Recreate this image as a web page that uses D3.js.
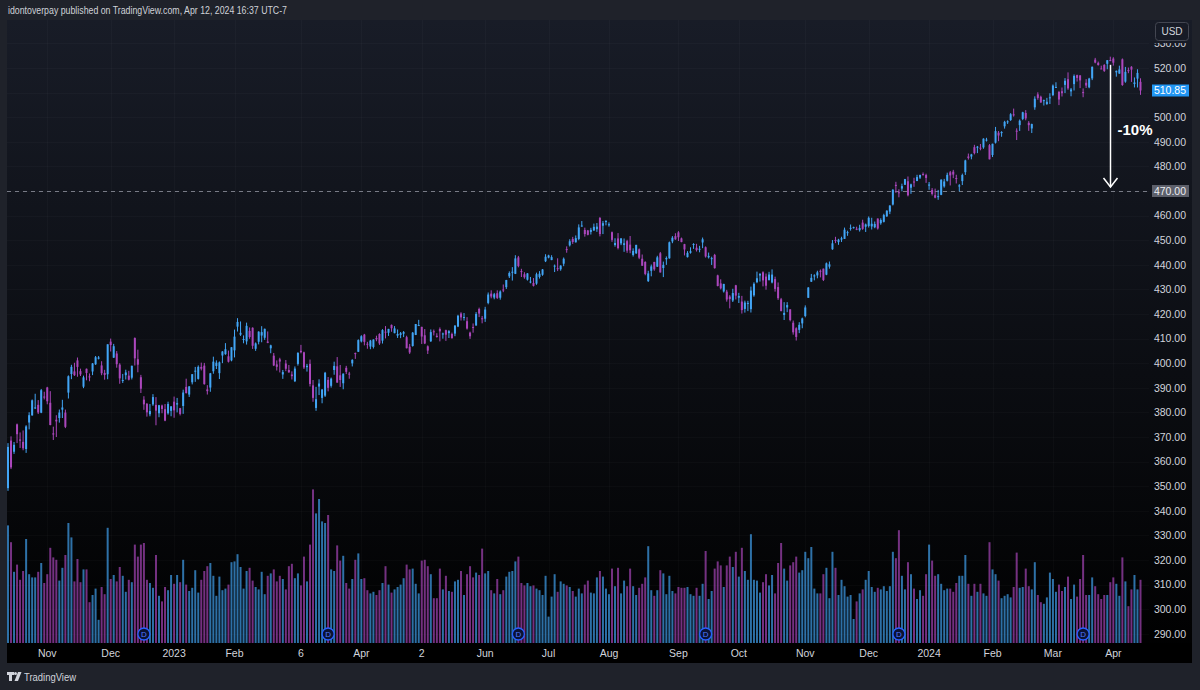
<!DOCTYPE html>
<html><head><meta charset="utf-8">
<script src="https://cdn.jsdelivr.net/npm/d3@7"></script>
<style>html,body{margin:0;padding:0;background:#1f222a;}svg{display:block}</style>
</head><body>
<svg id="c" width="1200" height="690"></svg>
<script>
// ---- DATA: SPY daily (trading days per month) ----
const monthDays = [
 ["2022-10",[13,14,17,18,19,20,21,24,25,26,27,28,31]],
 ["2022-11",[1,2,3,4,7,8,9,10,11,14,15,16,17,18,21,22,23,25,28,29,30]],
 ["2022-12",[1,2,5,6,7,8,9,12,13,14,15,16,19,20,21,22,23,27,28,29,30]],
 ["2023-01",[3,4,5,6,9,10,11,12,13,17,18,19,20,23,24,25,26,27,30,31]],
 ["2023-02",[1,2,3,6,7,8,9,10,13,14,15,16,17,21,22,23,24,27,28]],
 ["2023-03",[1,2,3,6,7,8,9,10,13,14,15,16,17,20,21,22,23,24,27,28,29,30,31]],
 ["2023-04",[3,4,5,6,10,11,12,13,14,17,18,19,20,21,24,25,26,27,28]],
 ["2023-05",[1,2,3,4,5,8,9,10,11,12,15,16,17,18,19,22,23,24,25,26,30,31]],
 ["2023-06",[1,2,5,6,7,8,9,12,13,14,15,16,20,21,22,23,26,27,28,29,30]],
 ["2023-07",[3,5,6,7,10,11,12,13,14,17,18,19,20,21,24,25,26,27,28,31]],
 ["2023-08",[1,2,3,4,7,8,9,10,11,14,15,16,17,18,21,22,23,24,25,28,29,30,31]],
 ["2023-09",[1,5,6,7,8,11,12,13,14,15,18,19,20,21,22,25,26,27,28,29]],
 ["2023-10",[2,3,4,5,6,9,10,11,12,13,16,17,18,19,20,23,24,25,26,27,30,31]],
 ["2023-11",[1,2,3,6,7,8,9,10,13,14,15,16,17,20,21,22,24,27,28,29,30]],
 ["2023-12",[1,4,5,6,7,8,11,12,13,14,15,18,19,20,21,22,26,27,28,29]],
 ["2024-01",[2,3,4,5,8,9,10,11,12,16,17,18,19,22,23,24,25,26,29,30,31]],
 ["2024-02",[1,2,5,6,7,8,9,12,13,14,15,16,20,21,22,23,26,27,28,29]],
 ["2024-03",[1,4,5,6,7,8,11,12,13,14,15,18,19,20,21,22,25,26,27,28]],
 ["2024-04",[1,2,3,4,5,8,9,10,11,12]]
];
const opens = [
 349.21,368.55,364.01,375.13,368.99,368.03,365.12,375.89,378.79,381.62,383.07,379.87,386.44,
 390.14,383.90,371.47,377.00,377.71,381.11,379.93,388.05,395.59,396.66,401.15,396.78,390.46,397.74,394.64,396.63,399.55,401.83,399.09,396.05,395.49,
 408.77,402.25,403.95,399.42,392.94,395.14,394.94,394.11,410.22,401.61,394.30,385.18,383.47,379.23,383.25,383.05,379.65,382.79,381.33,379.63,380.64,
 384.37,383.18,381.72,382.61,390.37,387.25,392.23,396.67,393.62,398.48,399.01,389.36,390.10,396.72,398.88,395.95,403.13,403.66,402.80,401.13,
 405.21,414.86,411.59,409.79,408.87,413.13,414.41,405.86,408.72,411.24,410.35,408.79,406.06,403.06,399.52,401.56,395.42,399.87,397.23,
 395.41,392.68,399.71,405.05,404.42,398.39,399.74,390.99,381.81,390.50,385.89,386.82,393.22,390.80,397.24,398.73,395.09,391.84,398.12,395.77,399.93,404.11,404.66,
 408.85,411.62,407.91,406.77,406.61,410.26,411.87,409.18,412.81,412.37,415.58,412.22,411.21,411.49,411.99,410.58,406.72,407.00,411.49,
 415.47,414.77,411.36,406.86,408.91,412.97,411.13,413.88,411.95,413.42,412.22,411.88,412.03,414.90,420.18,418.64,417.08,412.42,414.74,415.33,422.03,418.28,
 418.09,424.50,428.28,426.67,428.44,426.62,429.96,430.92,435.32,437.01,436.33,443.02,437.45,436.16,433.95,432.93,432.62,432.35,435.05,435.96,441.44,
 442.92,441.91,439.42,438.63,438.18,440.45,446.39,447.90,450.48,449.13,450.50,455.88,454.17,453.96,453.37,453.92,454.47,459.02,455.88,457.41,
 456.27,453.25,448.04,450.72,448.71,448.08,449.62,448.19,443.97,444.70,446.27,442.46,441.16,433.37,437.55,441.18,439.25,444.69,438.68,442.24,442.65,449.51,451.65,
 453.17,450.73,448.40,443.11,444.90,448.24,446.95,446.22,449.07,447.14,443.05,442.68,444.01,435.70,432.45,429.17,429.09,427.09,425.48,431.67,
 426.62,425.06,422.07,424.36,421.97,427.58,432.94,435.64,436.95,435.21,433.82,432.81,434.19,430.95,425.98,419.61,422.65,421.89,416.45,414.19,413.56,416.18,
 419.20,426.58,433.14,435.47,435.69,437.55,438.43,435.98,439.23,446.32,450.11,449.22,450.24,450.53,453.18,454.98,455.07,454.65,454.08,457.15,455.48,
 455.77,455.60,455.26,458.81,456.91,457.46,459.69,461.63,464.49,472.50,469.49,470.98,472.53,473.96,471.33,473.86,474.07,475.44,476.88,476.49,
 472.16,470.43,468.30,467.49,468.43,471.87,474.16,477.59,477.84,475.26,471.82,474.01,477.65,484.01,484.01,487.81,487.58,487.59,487.73,490.56,488.62,
 484.63,489.65,493.70,493.52,496.29,498.10,498.84,501.17,494.53,496.79,499.29,501.70,497.72,495.42,504.01,509.27,508.30,506.70,505.33,508.07,
 508.98,512.03,510.24,510.55,513.14,515.46,510.48,513.45,517.11,516.97,510.21,514.00,512.15,515.77,523.39,522.11,519.80,521.23,521.71,523.21,
 523.83,518.24,517.72,523.52,514.46,519.15,520.50,513.48,515.68,514.37
];
const highs = [
 367.51,370.26,367.98,375.45,371.85,372.67,374.80,380.06,385.25,387.58,385.00,389.52,388.40,
 390.39,388.63,374.20,378.87,381.17,385.12,381.14,395.04,399.35,400.18,402.31,397.78,394.95,397.81,395.82,400.07,402.93,402.91,400.81,397.30,407.68,
 410.00,407.86,404.93,399.99,395.64,397.36,396.90,399.00,410.49,405.50,395.25,386.58,383.82,383.40,387.41,386.21,383.06,383.15,383.39,384.35,382.58,
 386.43,385.88,381.84,389.25,393.70,390.65,395.60,398.49,399.10,400.23,400.12,391.08,396.04,402.65,401.15,400.70,404.92,408.16,405.13,406.53,
 413.67,418.31,416.97,411.29,416.49,414.53,414.57,408.44,412.97,415.05,414.06,412.91,407.51,404.16,401.13,402.20,397.25,401.29,399.28,
 396.69,398.69,404.45,407.45,404.67,399.71,401.48,393.16,390.39,393.45,389.49,396.47,394.40,394.17,400.61,402.49,399.29,395.84,398.92,396.49,401.60,404.33,409.70,
 411.37,411.92,408.70,409.48,409.69,411.18,412.17,413.84,415.09,413.96,415.72,415.08,413.70,412.68,413.07,411.16,407.84,412.69,415.94,
 417.62,414.82,413.87,407.24,413.72,413.68,412.18,414.54,412.43,413.63,413.43,412.43,415.52,419.67,420.72,420.39,418.72,412.82,416.16,420.77,422.58,419.22,
 422.92,428.74,429.62,428.58,429.62,429.60,431.99,433.88,437.33,439.06,443.90,443.61,438.37,436.99,436.62,435.06,434.61,436.81,437.44,438.28,444.30,
 444.08,443.89,440.10,442.64,439.84,442.97,447.48,450.38,451.36,451.93,456.43,457.78,455.10,454.17,455.04,456.74,456.99,459.44,457.78,458.16,
 457.25,453.52,450.79,452.89,450.87,450.70,450.17,451.70,446.70,448.11,446.64,444.18,441.43,437.57,440.11,441.18,443.67,445.22,441.30,443.40,449.45,451.67,452.83,
 453.67,451.06,448.51,445.55,447.11,448.77,448.53,447.71,451.08,447.48,444.97,443.29,444.44,435.97,434.10,432.27,429.82,427.67,430.25,431.85,
 428.60,427.37,425.43,425.37,431.13,432.88,437.22,436.58,437.34,436.45,437.14,438.14,435.18,432.82,426.54,424.82,424.82,421.92,417.33,414.60,416.68,418.53,
 423.50,430.92,436.29,436.15,437.59,438.09,438.47,440.93,441.33,450.06,451.38,450.56,451.42,455.13,453.85,456.38,455.50,455.49,456.27,458.32,456.76,
 459.65,459.12,457.59,458.84,458.90,460.75,462.17,464.20,470.76,473.73,470.70,472.98,474.92,475.90,472.98,475.38,476.58,476.66,477.55,477.03,
 473.67,471.19,470.96,470.44,474.75,474.93,477.45,478.12,478.60,476.61,472.79,477.06,482.72,485.22,485.11,488.77,488.31,489.12,491.42,491.62,489.08,
 489.23,496.05,494.38,494.32,498.53,498.71,501.65,503.50,495.47,499.07,502.20,502.87,498.41,497.37,508.49,510.13,508.75,507.16,507.86,509.74,
 513.29,514.20,510.70,512.07,515.89,518.22,511.88,517.38,517.29,517.13,511.70,515.48,516.00,520.62,524.11,522.61,520.95,521.58,523.21,524.61,
 524.38,518.98,520.95,523.87,520.44,520.18,520.75,516.16,519.48,515.82
];
const lows = [
 348.11,356.96,363.13,367.52,365.55,364.61,363.54,373.11,378.67,381.35,379.33,379.68,385.26,
 383.29,374.76,368.79,370.00,375.84,377.72,373.61,385.64,393.51,394.83,394.49,394.79,389.85,393.04,392.66,395.15,399.31,401.54,395.11,393.30,393.48,
 404.75,402.14,398.17,391.64,391.97,393.38,393.00,393.39,399.07,396.31,387.89,381.04,378.28,378.43,382.66,374.77,378.03,379.65,376.42,379.08,378.43,
 377.83,380.00,378.76,379.41,387.67,386.27,391.38,392.42,393.34,397.06,391.28,387.26,388.38,395.72,397.64,393.56,400.03,403.44,400.28,400.77,
 402.35,412.88,411.09,408.10,407.57,409.93,405.81,405.01,407.65,408.51,409.47,408.14,404.05,398.82,397.02,396.25,393.64,396.75,396.15,
 393.38,392.33,399.03,404.01,397.63,396.59,390.53,384.32,380.65,387.05,383.71,386.29,388.55,390.07,395.31,392.07,390.35,389.40,395.56,393.69,398.68,401.75,404.54,
 408.44,407.24,405.88,405.68,405.97,408.92,407.44,407.99,410.06,411.08,412.78,412.16,410.27,410.17,410.60,406.02,403.78,406.74,411.43,
 415.27,407.82,407.77,403.74,408.64,411.28,410.38,408.87,409.97,409.07,410.23,409.97,410.98,414.67,417.35,417.35,413.68,409.88,412.41,415.25,418.74,416.22,
 416.79,423.95,426.37,425.99,426.11,425.82,428.87,430.17,434.63,433.59,436.23,438.97,435.03,434.33,433.60,432.47,431.19,431.88,434.41,435.54,441.11,
 442.63,441.90,437.06,437.44,437.59,439.44,444.91,447.45,448.49,449.08,449.99,455.49,451.44,451.97,452.30,453.87,453.38,451.55,452.49,456.05,
 455.49,449.35,447.37,446.27,447.99,445.27,444.86,444.70,443.35,444.38,442.30,439.53,435.75,433.01,435.32,437.57,439.10,436.86,435.00,439.97,442.46,448.78,450.16,
 449.68,449.17,443.81,442.97,444.53,446.47,445.39,445.08,446.75,442.92,442.56,439.94,438.43,431.23,429.99,428.72,425.02,422.29,424.87,425.91,
 424.46,420.18,420.56,421.17,420.60,427.01,432.53,433.18,431.23,429.88,433.57,432.45,429.09,425.73,421.08,417.55,420.74,417.02,411.60,409.21,412.22,414.21,
 418.65,426.56,433.01,433.68,434.51,434.87,433.40,435.78,438.42,446.09,448.80,448.12,449.29,450.52,451.78,453.89,454.73,454.08,453.50,454.20,453.34,
 455.16,454.34,454.87,454.31,456.29,457.21,459.47,460.60,464.12,469.25,467.43,469.89,472.45,467.82,468.84,471.70,473.99,474.89,476.26,473.30,
 470.49,468.17,467.05,466.43,468.30,471.35,473.87,472.26,475.23,473.06,469.87,472.42,476.54,482.78,482.89,484.88,485.39,486.54,487.17,490.11,482.86,
 483.80,489.30,490.23,492.05,495.36,497.26,498.49,500.24,490.72,494.40,498.80,498.75,494.45,493.56,503.02,507.10,505.86,504.75,505.02,505.35,
 508.56,512.00,504.91,508.42,509.81,511.13,508.50,510.86,514.49,511.82,508.12,511.88,511.78,515.08,521.91,520.97,519.61,518.40,519.49,522.78,
 520.97,516.48,517.67,512.76,514.01,517.89,514.35,512.09,512.08,509.08
];
const closes = [
 365.97,357.63,366.82,371.13,368.50,365.41,374.29,378.87,384.92,382.02,379.98,389.02,386.21,
 384.52,374.87,371.01,376.35,379.95,382.00,374.13,394.69,398.51,395.12,398.49,395.45,394.24,396.03,394.59,399.90,402.42,402.33,395.91,395.23,407.68,
 407.38,406.91,399.59,393.83,393.16,396.24,393.28,398.95,401.97,399.40,389.63,383.27,380.02,380.54,386.23,380.72,382.91,381.40,376.66,383.44,382.43,
 380.82,383.76,379.38,388.08,387.86,390.58,395.52,396.96,398.50,397.77,391.49,388.64,395.88,400.63,400.20,400.35,404.75,405.68,400.59,406.48,
 410.80,416.78,412.35,409.83,415.19,410.65,407.09,408.04,412.83,412.64,413.98,408.28,407.26,399.09,398.54,400.66,396.38,397.73,396.26,
 394.74,397.81,404.19,404.47,398.27,398.92,391.56,385.91,385.36,391.73,389.28,396.11,389.99,393.74,398.91,392.11,393.17,395.75,396.49,395.60,401.35,403.70,409.39,
 410.95,408.67,407.60,409.19,409.61,409.72,408.05,413.47,412.46,413.94,414.21,414.14,411.88,412.20,412.63,406.08,404.36,412.41,415.93,
 415.51,410.84,408.02,405.13,412.63,412.87,410.65,412.94,412.08,411.59,413.01,410.19,415.24,419.28,418.62,418.79,414.09,410.95,414.65,420.02,420.18,417.85,
 421.82,427.92,427.10,428.03,426.55,429.13,429.90,433.80,436.66,437.18,442.60,439.46,437.18,434.94,436.51,433.21,431.44,436.17,436.39,438.11,443.28,
 443.79,443.13,439.66,438.55,439.66,442.46,446.02,449.56,449.28,450.84,455.20,455.96,452.49,452.18,454.20,455.44,455.51,452.49,456.92,457.79,
 456.48,450.13,448.84,446.81,450.71,448.75,445.75,445.91,445.65,448.11,442.89,439.64,436.29,436.50,439.34,438.15,443.03,436.89,439.97,442.76,449.16,451.01,450.35,
 451.19,449.24,446.22,444.85,445.52,448.45,445.99,446.51,450.36,443.37,443.63,442.71,438.64,431.39,430.42,432.23,425.88,426.05,428.52,427.48,
 427.31,421.59,424.66,424.50,429.54,432.29,434.54,436.32,433.66,431.50,436.04,436.02,430.21,426.43,421.19,420.46,423.63,417.55,412.55,410.68,415.59,418.20,
 422.66,430.76,434.69,435.69,436.93,437.25,433.84,440.61,440.19,448.73,449.68,450.23,450.79,454.26,453.27,455.02,455.30,454.48,454.93,454.61,456.40,
 459.10,456.69,456.60,454.76,458.23,460.20,461.99,464.10,470.50,472.01,469.33,471.97,474.84,468.26,472.70,473.65,475.65,476.51,476.69,475.31,
 472.65,468.79,467.28,467.92,474.60,473.88,476.56,476.35,476.68,474.93,472.29,476.49,482.43,483.45,484.86,485.39,488.03,487.41,491.27,490.89,482.88,
 489.20,494.35,492.55,493.98,498.10,498.32,501.20,500.98,494.08,498.57,502.01,499.51,496.76,497.21,507.50,507.85,505.99,506.93,506.26,508.08,
 512.85,512.30,507.18,509.75,514.81,511.72,511.28,516.78,515.97,514.95,509.83,512.86,515.71,520.48,522.20,521.21,519.77,518.81,523.17,523.07,
 522.16,518.84,519.41,513.07,518.43,518.72,519.32,514.12,518.00,510.85
];
// volume, millions of shares
const volumes = [
 147,126,89,98,79,90,130,86,82,82,89,100,75,
 86,119,107,104,78,94,110,150,132,77,105,76,92,92,51,60,68,29,70,61,144,
 80,85,77,95,84,64,79,76,123,108,123,125,79,75,69,110,59,52,70,66,85,
 74,85,76,104,73,65,69,91,63,79,90,96,100,84,59,83,66,68,73,101,
 102,111,95,68,90,94,78,70,67,89,61,84,87,92,77,84,80,67,96,
 99,81,87,72,108,77,123,192,162,180,152,150,160,92,90,122,103,109,75,68,80,104,112,
 80,81,66,62,64,60,66,75,96,73,63,67,70,73,81,98,92,93,74,
 62,103,104,96,86,56,56,93,67,84,65,64,77,79,90,60,86,96,82,88,85,118,
 87,90,66,62,80,61,66,83,89,90,102,108,75,72,75,71,72,68,66,60,84,
 33,58,86,64,77,74,72,70,65,58,68,62,73,78,63,62,82,90,83,68,
 61,93,71,94,62,78,71,93,71,60,69,74,82,121,66,59,66,91,87,61,84,65,62,
 70,69,69,70,61,59,69,59,74,115,55,65,93,102,97,70,97,108,95,114,
 83,119,90,79,136,79,78,63,76,86,72,85,62,100,125,93,78,97,101,108,88,91,
 114,106,120,68,62,62,86,94,56,114,94,60,79,71,58,60,30,52,62,67,79,
 90,70,64,69,67,71,65,71,114,106,141,84,67,101,86,68,55,66,59,86,
 123,103,84,86,74,66,68,68,64,75,84,84,110,74,59,74,64,74,62,59,126,
 92,86,78,56,59,61,57,70,113,69,70,93,71,67,101,60,51,49,57,88,
 80,64,73,65,70,83,55,73,58,80,110,60,60,82,71,61,55,60,60,76,
 82,74,59,107,77,46,67,85,67,79
];
const dividendDates = ["2022-12-16","2023-03-17","2023-06-16","2023-09-15","2023-12-15","2024-03-15"];
const xTickDates  = ["2022-11-01","2022-12-01","2023-01-03","2023-02-01","2023-03-06","2023-04-03","2023-05-02","2023-06-01","2023-07-03","2023-08-01","2023-09-01","2023-10-02","2023-11-01","2023-12-01","2024-01-02","2024-02-01","2024-03-01","2024-04-01"];
const xTickLabels = ["Nov","Dec","2023","Feb","6","Apr","2","Jun","Jul","Aug","Sep","Oct","Nov","Dec","2024","Feb","Mar","Apr"];
const priceTicks = [290,300,310,320,330,340,350,360,370,380,390,400,410,420,430,440,450,460,470,480,490,500,510,520,530];
const lastPrice = 510.85;
const levelPrice = 470.00;
const arrowDate = "2024-03-28", arrowFrom = 521.3, arrowTo = 471.6, arrowLabel = "-10%";
const headerText = "idontoverpay published on TradingView.com, Apr 12, 2024 16:37 UTC-7";

// ---- BUILD ----
const dates = [];
monthDays.forEach(([m, days]) => days.forEach(d => dates.push(m + "-" + String(d).padStart(2, "0"))));
const bars = dates.map((d, i) => ({d, o: opens[i], h: highs[i], l: lows[i], c: closes[i], v: volumes[i]}));

const FONT = "'Liberation Sans',Roboto,Arial,sans-serif";
const UP = "#42a5f5", DN = "#ab47bc";
const svg = d3.select("#c");
const panel = {x0: 7, y0: 20, x1: 1192, y1: 663};
const plotR = 1149, volBase = 643;

const x = d3.scalePoint().domain(dates).range([8, 1140.5]);
const y = d3.scaleLinear().domain([290, 530]).range([633.8, 43.4]);
const yv = d3.scaleLinear().domain([0, 200]).range([volBase, volBase - 160]);

const defs = svg.append("defs");
const g = defs.append("linearGradient").attr("id", "bg").attr("x1", 0).attr("y1", 0).attr("x2", 0).attr("y2", 1);
g.append("stop").attr("offset", "0%").attr("stop-color", "#181c27");
g.append("stop").attr("offset", "55%").attr("stop-color", "#0b0d12");
g.append("stop").attr("offset", "100%").attr("stop-color", "#000000");
defs.append("clipPath").attr("id", "plot").append("rect")
  .attr("x", panel.x0).attr("y", panel.y0).attr("width", plotR - panel.x0).attr("height", volBase - panel.y0);
defs.append("clipPath").attr("id", "axisclip").append("rect")
  .attr("x", 1150).attr("y", 43).attr("width", 42).attr("height", 600);

svg.append("rect").attr("width", 1200).attr("height", 690).attr("fill", "#1f222a");
svg.append("rect").attr("x", panel.x0).attr("y", panel.y0).attr("width", panel.x1 - panel.x0)
  .attr("height", panel.y1 - panel.y0).attr("fill", "url(#bg)");
svg.append("rect").attr("x", panel.x0).attr("y", volBase).attr("width", panel.x1 - panel.x0)
  .attr("height", panel.y1 - volBase).attr("fill", "#000");

// header
svg.append("text").attr("x", 8).attr("y", 14).attr("fill", "#cfd2d8")
  .attr("font-family", FONT).attr("font-size", 10.5)
  .attr("textLength", 279).attr("lengthAdjust", "spacingAndGlyphs").text(headerText);

// grid
const grid = svg.append("g").attr("clip-path", "url(#plot)");
grid.selectAll("line.h").data(priceTicks).join("line")
  .attr("x1", panel.x0).attr("x2", plotR).attr("y1", d => Math.round(y(d)) + 0.5).attr("y2", d => Math.round(y(d)) + 0.5)
  .attr("stroke", "#ffffff").attr("stroke-opacity", 0.025);
grid.selectAll("line.v").data(xTickDates).join("line")
  .attr("x1", d => Math.round(x(d)) + 0.5).attr("x2", d => Math.round(x(d)) + 0.5).attr("y1", panel.y0).attr("y2", volBase)
  .attr("stroke", "#ffffff").attr("stroke-opacity", 0.025);

const plot = svg.append("g").attr("clip-path", "url(#plot)");

// volume
plot.append("g").selectAll("rect").data(bars).join("rect")
  .attr("x", d => x(d.d) - 1).attr("width", 2)
  .attr("y", d => yv(d.v)).attr("height", d => volBase - yv(d.v))
  .attr("fill", d => d.c >= d.o ? UP : DN).attr("fill-opacity", 0.68);

// dashed level line
plot.append("line").attr("x1", panel.x0).attr("x2", plotR)
  .attr("y1", Math.round(y(levelPrice)) + 0.5).attr("y2", Math.round(y(levelPrice)) + 0.5)
  .attr("stroke", "#787b86").attr("stroke-width", 1).attr("stroke-dasharray", "4,4");

// candles
const cg = plot.append("g");
cg.selectAll("line").data(bars).join("line")
  .attr("x1", d => x(d.d)).attr("x2", d => x(d.d))
  .attr("y1", d => y(Math.max(d.h, d.o, d.c))).attr("y2", d => y(Math.min(d.l, d.o, d.c)))
  .attr("stroke", d => d.c >= d.o ? UP : DN).attr("stroke-width", 1);
cg.selectAll("rect").data(bars).join("rect")
  .attr("x", d => x(d.d) - 1).attr("width", 2)
  .attr("y", d => y(Math.max(d.o, d.c)))
  .attr("height", d => Math.max(1, Math.abs(y(d.o) - y(d.c))))
  .attr("fill", d => d.c >= d.o ? UP : DN);

// dividend markers
const dg = svg.append("g").selectAll("g").data(dividendDates).join("g")
  .attr("transform", d => `translate(${x(d)},634)`);
dg.append("circle").attr("r", 6).attr("fill", "#0b1233").attr("stroke", "#2962ff").attr("stroke-width", 1.3);
dg.append("text").attr("text-anchor", "middle").attr("y", 3).attr("fill", "#4f78ff")
  .attr("font-family", FONT).attr("font-size", 8).text("D");

// x axis labels
svg.append("g").selectAll("text").data(xTickDates).join("text")
  .attr("x", d => x(d)).attr("y", 657).attr("text-anchor", "middle")
  .attr("fill", "#d1d4dc").attr("font-family", FONT).attr("font-size", 10.5)
  .text((d, i) => xTickLabels[i]);

// price axis labels
svg.append("g").attr("clip-path", "url(#axisclip)").selectAll("text").data(priceTicks).join("text")
  .attr("x", 1186).attr("y", d => y(d) + 3.8).attr("text-anchor", "end")
  .attr("fill", "#d1d4dc").attr("font-family", FONT).attr("font-size", 10.5)
  .text(d => d.toFixed(2));

// USD box
svg.append("rect").attr("x", 1155.5).attr("y", 22.5).attr("width", 33).attr("height", 18).attr("rx", 3)
  .attr("fill", "#171b26").attr("stroke", "#434651");
svg.append("text").attr("x", 1172).attr("y", 35).attr("text-anchor", "middle").attr("fill", "#d1d4dc")
  .attr("font-family", FONT).attr("font-size", 10).text("USD");

// level badge
svg.append("rect").attr("x", 1152).attr("y", y(levelPrice) - 6).attr("width", 37).attr("height", 12)
  .attr("fill", "#5d606b");
svg.append("text").attr("x", 1186).attr("y", y(levelPrice) + 3.8).attr("text-anchor", "end")
  .attr("fill", "#eceef2").attr("font-family", FONT).attr("font-size", 10.5).text(levelPrice.toFixed(2));
// last price badge
svg.append("rect").attr("x", 1152).attr("y", y(lastPrice) - 6).attr("width", 37).attr("height", 12)
  .attr("fill", "#2196f3");
svg.append("text").attr("x", 1186).attr("y", y(lastPrice) + 3.8).attr("text-anchor", "end")
  .attr("fill", "#ffffff").attr("font-family", FONT).attr("font-size", 10.5).text(lastPrice.toFixed(2));

// arrow annotation
const ax = Math.round(x(arrowDate)) + 0.5;
const ann = svg.append("g").attr("stroke", "#ffffff").attr("stroke-width", 1.5).attr("fill", "none");
ann.append("line").attr("x1", ax).attr("x2", ax).attr("y1", y(arrowFrom)).attr("y2", y(arrowTo));
ann.append("path").attr("d", `M${ax - 7},${y(arrowTo) - 9}L${ax},${y(arrowTo)}L${ax + 7},${y(arrowTo) - 9}`);
svg.append("text").attr("x", ax + 7).attr("y", 135).attr("fill", "#ffffff")
  .attr("font-family", FONT).attr("font-weight", "bold").attr("font-size", 15)
  .text(arrowLabel);

// footer logo
const lg = svg.append("g").attr("fill", "#d1d4dc");
lg.append("path").attr("d", "M7,672H14V675H12V681H9V675H7Z");
lg.append("circle").attr("cx", 15.5).attr("cy", 673.5).attr("r", 1.5);
lg.append("path").attr("d", "M18,672H21.5L18,681H14.5Z");
svg.append("text").attr("x", 24).attr("y", 681).attr("fill", "#d1d4dc")
  .attr("font-family", FONT).attr("font-size", 10.5)
  .attr("textLength", 52).attr("lengthAdjust", "spacingAndGlyphs").text("TradingView");
</script>
</body></html>
